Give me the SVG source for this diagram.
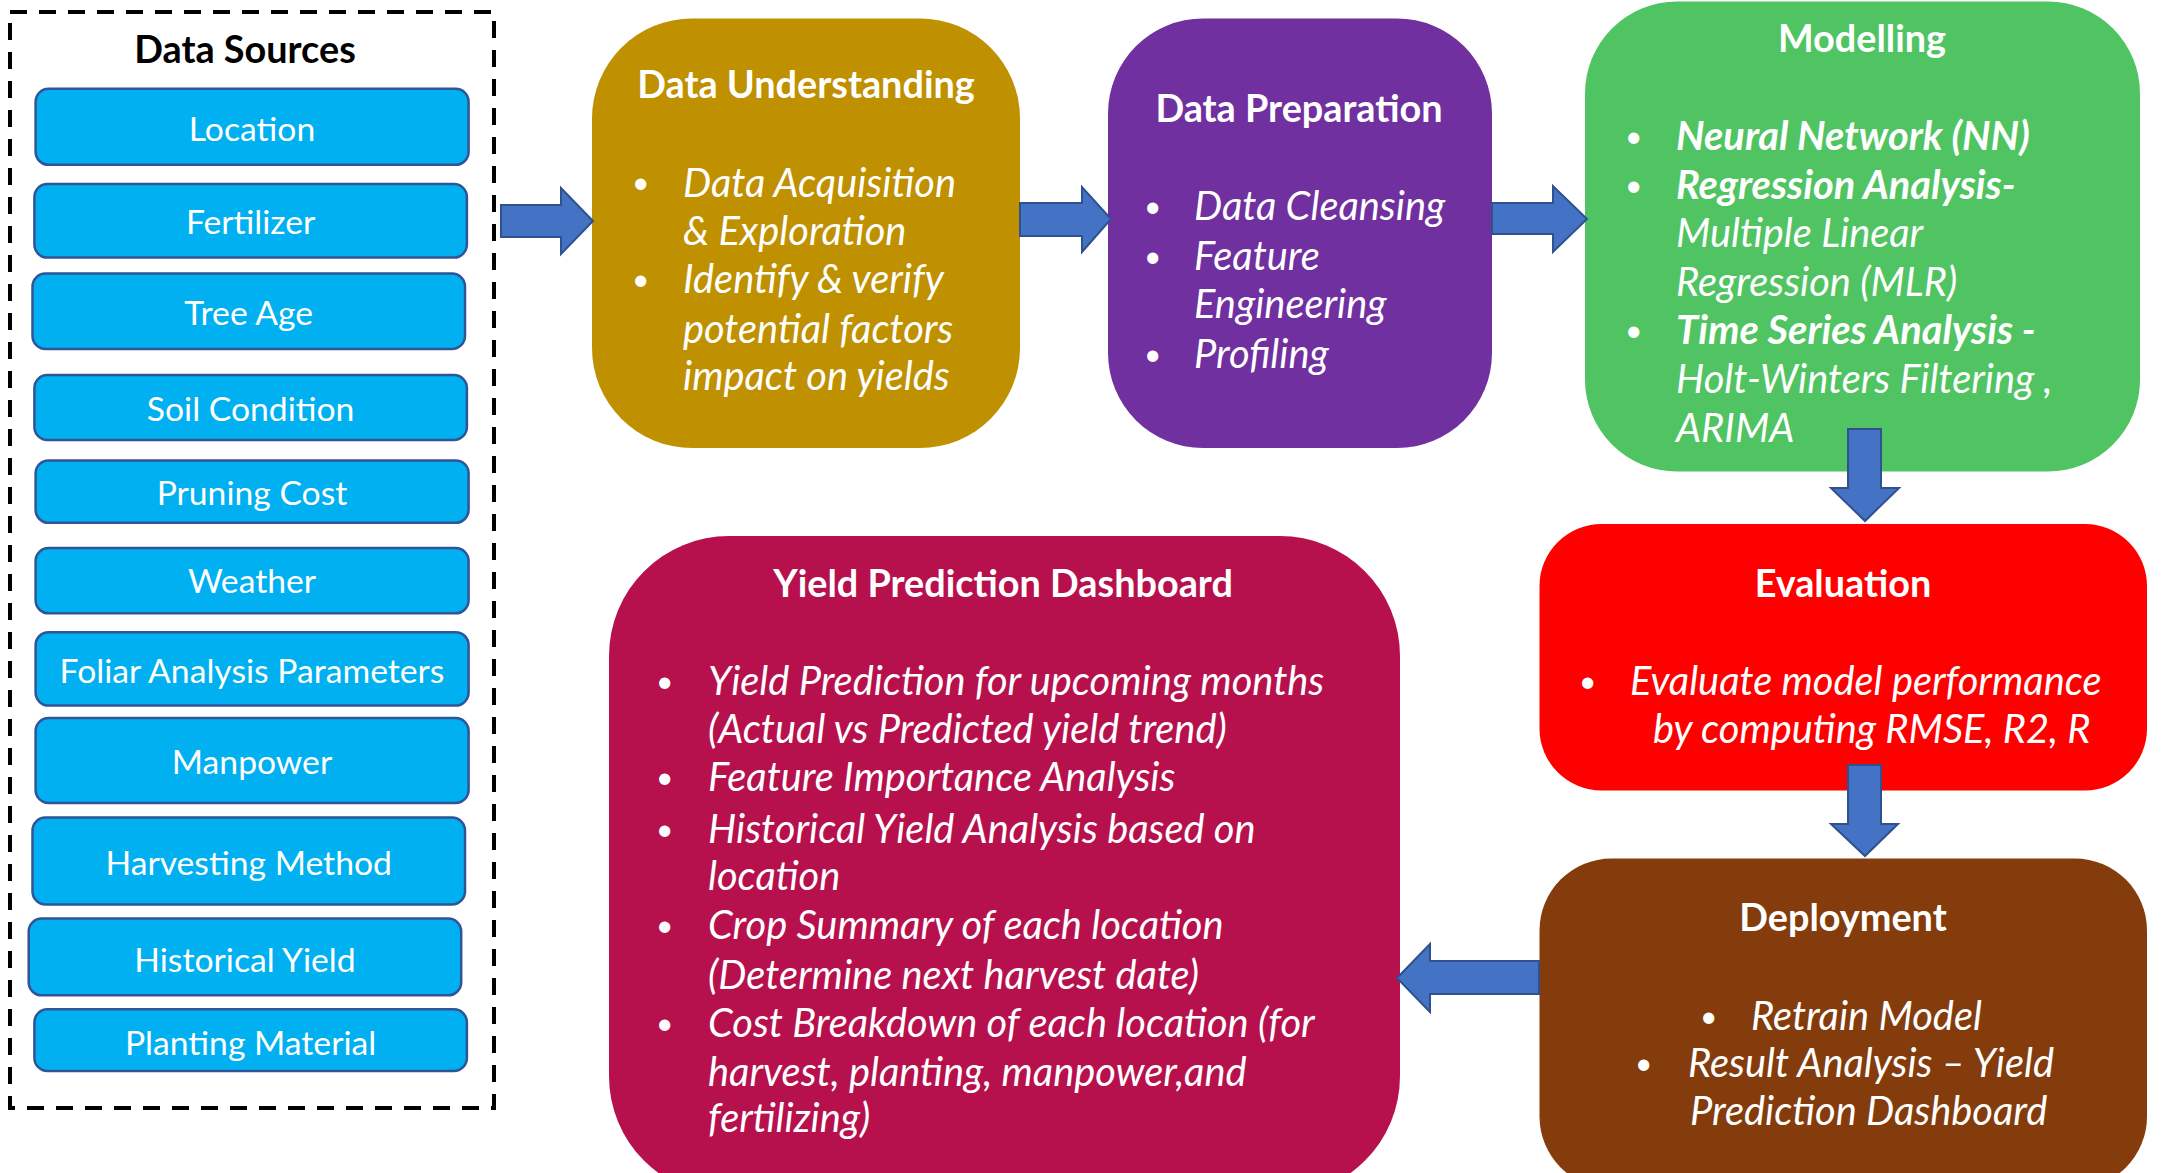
<svg xmlns="http://www.w3.org/2000/svg" width="2165" height="1173" viewBox="0 0 2165 1173">
<style>
.src rect{fill:#00B0F0;stroke:#2F5597;stroke-width:2.5}
.src text{font-family:Lato,"Open Sans",sans-serif;font-size:33.7px;fill:#fff;text-anchor:middle}
.title{font-family:Lato,"Open Sans",sans-serif;font-weight:bold;font-size:37.8px;fill:#fff;text-anchor:middle}
.body{font-family:Lato,"Open Sans",sans-serif;font-style:italic;font-size:39.8px;fill:#fff}
.bul{font-family:Lato,"Open Sans",sans-serif;font-size:30px;fill:#fff}
.b{font-weight:bold}
.arrow{fill:#4472C4;stroke:#2F528F;stroke-width:2}
</style>
<rect width="2165" height="1173" fill="#fff"/>
<g id="data-sources">
<rect x="10" y="12" width="484" height="1096" fill="none" stroke="#000" stroke-width="4" stroke-dasharray="17 12"/>
<text x="245" y="63" font-family="Lato,'Open Sans',sans-serif" font-weight="bold" font-size="37.8" fill="#000" text-anchor="middle">Data Sources</text>
<g class="src" id="src-location"><rect x="35.6" y="88.8" width="433" height="76" rx="13"/><text x="252" y="140.5">Location</text></g>
<g class="src" id="src-fertilizer"><rect x="34.4" y="184" width="432.5" height="73.6" rx="13"/><text x="250.6" y="234">Fertilizer</text></g>
<g class="src" id="src-treeage"><rect x="32.5" y="273.6" width="432.5" height="75.4" rx="13"/><text x="248.7" y="325">Tree Age</text></g>
<g class="src" id="src-soil"><rect x="34.4" y="375" width="432.5" height="65" rx="13"/><text x="250.6" y="420.5">Soil Condition</text></g>
<g class="src" id="src-pruning"><rect x="35.6" y="460.4" width="433" height="62.4" rx="13"/><text x="252" y="505">Pruning Cost</text></g>
<g class="src" id="src-weather"><rect x="35.6" y="548" width="433" height="65.3" rx="13"/><text x="252" y="592.5">Weather</text></g>
<g class="src" id="src-foliar"><rect x="35.6" y="632.2" width="433" height="73.4" rx="13"/><text x="252" y="683">Foliar Analysis Parameters</text></g>
<g class="src" id="src-manpower"><rect x="35.6" y="718" width="433" height="85" rx="13"/><text x="252" y="773.6">Manpower</text></g>
<g class="src" id="src-harvesting"><rect x="32.5" y="817.5" width="432.5" height="87" rx="13"/><text x="248.7" y="875">Harvesting Method</text></g>
<g class="src" id="src-historical"><rect x="28.7" y="918.5" width="432.5" height="76.8" rx="13"/><text x="245" y="971.5">Historical Yield</text></g>
<g class="src" id="src-planting"><rect x="34.4" y="1009.3" width="432.5" height="61.7" rx="13"/><text x="250.6" y="1054.7">Planting Material</text></g>
</g>
<g id="data-understanding">
<rect x="592" y="18.5" width="428" height="429.5" rx="100" fill="#BF9000"/>
<text class="title" x="806" y="98">Data Understanding</text>
<text class="bul" x="632" y="193">•</text>
<text class="body" x="683" y="196.5">Data Acquisition</text>
<text class="body" x="683" y="245">&amp; Exploration</text>
<text class="bul" x="632" y="290">•</text>
<text class="body" x="683" y="293">Identify &amp; verify</text>
<text class="body" x="683" y="343">potential factors</text>
<text class="body" x="683" y="390">impact on yields</text>
</g>
<g id="data-preparation">
<rect x="1108" y="18.5" width="384" height="429.5" rx="95" fill="#7030A0"/>
<text class="title" x="1299" y="121.5">Data Preparation</text>
<text class="bul" x="1144" y="217">•</text>
<text class="body" x="1194" y="220">Data Cleansing</text>
<text class="bul" x="1144" y="267">•</text>
<text class="body" x="1194" y="270">Feature</text>
<text class="body" x="1194" y="318">Engineering</text>
<text class="bul" x="1144" y="365">•</text>
<text class="body" x="1194" y="368">Profiling</text>
</g>
<g id="modelling">
<rect x="1585" y="1.5" width="555" height="470" rx="92" fill="#50C462"/>
<text class="title" x="1862" y="51.5">Modelling</text>
<text class="bul" x="1625" y="147">•</text>
<text class="body b" x="1676" y="150">Neural Network (NN)</text>
<text class="bul" x="1625" y="196">•</text>
<text class="body b" x="1676" y="199">Regression Analysis-</text>
<text class="body" x="1676" y="247">Multiple Linear</text>
<text class="body" x="1676" y="296">Regression (MLR)</text>
<text class="bul" x="1625" y="341">•</text>
<text class="body b" x="1676" y="344">Time Series Analysis -</text>
<text class="body" x="1676" y="392.5">Holt-Winters Filtering ,</text>
<text class="body" x="1676" y="442">ARIMA</text>
</g>
<g id="evaluation">
<rect x="1539.5" y="524" width="607.5" height="266.5" rx="62" fill="#FF0000"/>
<text class="title" x="1843" y="596.5">Evaluation</text>
<text class="bul" x="1579" y="692">•</text>
<text class="body" x="1630" y="695">Evaluate model performance</text>
<text class="body" x="1653" y="742.5">by computing RMSE, R2, R</text>
</g>
<g id="deployment">
<rect x="1539.5" y="858.5" width="607.5" height="330" rx="72" fill="#843C0C"/>
<text class="title" x="1843" y="931">Deployment</text>
<text class="bul" x="1700" y="1027">•</text>
<text class="body" x="1751" y="1030">Retrain Model</text>
<text class="bul" x="1635" y="1074">•</text>
<text class="body" x="1688" y="1077">Result Analysis – Yield</text>
<text class="body" x="1690" y="1124.5">Prediction Dashboard</text>
</g>
<g id="yield-dashboard">
<rect x="609" y="536" width="791" height="660" rx="120" fill="#B7114D"/>
<text class="title" x="1003" y="597">Yield Prediction Dashboard</text>
<text class="bul" x="656" y="692">•</text>
<text class="body" x="708" y="695">Yield Prediction for upcoming months</text>
<text class="body" x="708" y="743">(Actual vs Predicted yield trend)</text>
<text class="bul" x="656" y="788">•</text>
<text class="body" x="708" y="791">Feature Importance Analysis</text>
<text class="bul" x="656" y="840">•</text>
<text class="body" x="708" y="843">Historical Yield Analysis based on</text>
<text class="body" x="708" y="890">location</text>
<text class="bul" x="656" y="936">•</text>
<text class="body" x="708" y="938.5">Crop Summary of each location</text>
<text class="body" x="708" y="988.5">(Determine next harvest date)</text>
<text class="bul" x="656" y="1034">•</text>
<text class="body" x="708" y="1036.5">Cost Breakdown of each location (for</text>
<text class="body" x="708" y="1085.5">harvest, planting, manpower,and</text>
<text class="body" x="708" y="1132">fertilizing)</text>
</g>
<g id="connectors">
<polygon class="arrow" points="501,205 561,205 561,188 593,221 561,254 561,237 501,237"/>
<polygon class="arrow" points="1020,203 1082,203 1082,187 1111,219 1082,252 1082,236 1020,236"/>
<polygon class="arrow" points="1492,203 1553,203 1553,186 1587,219 1553,252 1553,234 1492,234"/>
<polygon class="arrow" points="1848,429 1881,429 1881,488 1899,488 1865,521 1831,488 1848,488"/>
<polygon class="arrow" points="1848,765 1881,765 1881,824 1898,824 1865,856 1831,824 1848,824"/>
<polygon class="arrow" points="1539,961 1430,961 1430,944 1397,978 1430,1012 1430,994 1539,994"/>
</g>
</svg>
